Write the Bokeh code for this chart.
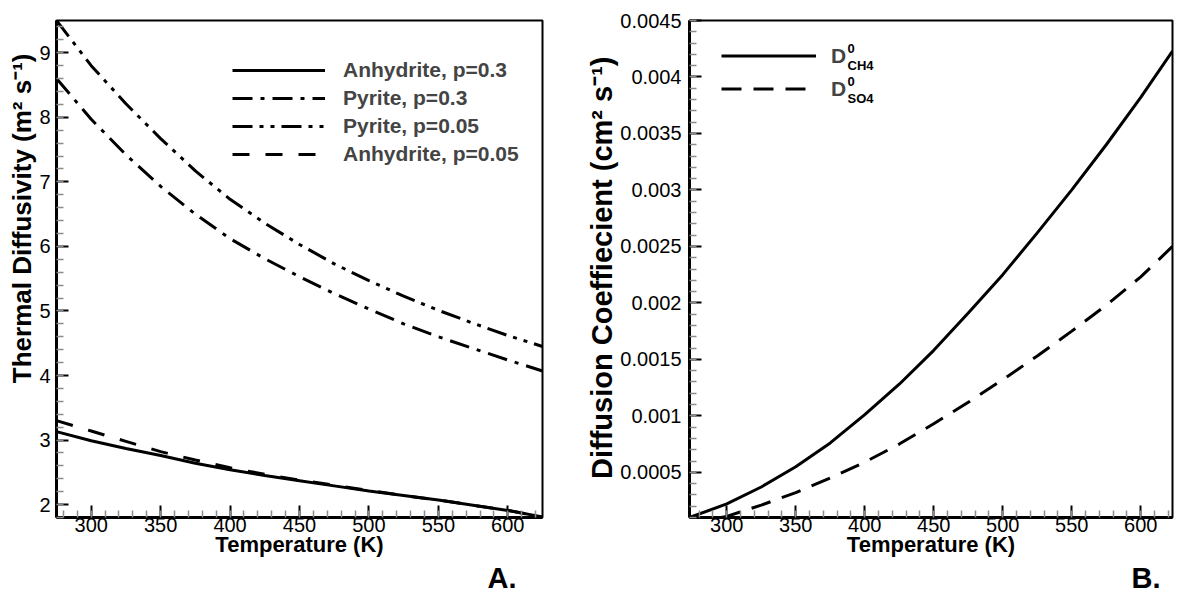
from bokeh.plotting import figure
from bokeh.models import FixedTicker, Legend, LegendItem, Label, Range1d, CustomJSTickFormatter, Title
from bokeh.layouts import row
from bokeh.embed import file_html
from bokeh.resources import INLINE
import numpy as np

# ---------------- data ----------------
temp_a = [275, 300, 325, 350, 375, 400, 425, 450, 475, 500, 525, 550, 575, 600, 625]
anhydrite_p03 = [3.13, 2.99, 2.87, 2.76, 2.64, 2.54, 2.45, 2.37, 2.29, 2.21, 2.14, 2.07, 1.99, 1.91, 1.81]
pyrite_p03 = [8.6, 7.97, 7.42, 6.93, 6.5, 6.12, 5.81, 5.53, 5.27, 5.03, 4.8, 4.6, 4.42, 4.24, 4.07]
pyrite_p005 = [9.5, 8.8, 8.21, 7.67, 7.17, 6.73, 6.36, 6.03, 5.73, 5.47, 5.23, 5.01, 4.81, 4.62, 4.45]
anhydrite_p005 = [3.3, 3.14, 2.98, 2.82, 2.69, 2.57, 2.47, 2.38, 2.3, 2.22, 2.14, 2.07, 1.99, 1.91, 1.81]

temp_b = [273, 300, 325, 350, 375, 400, 425, 450, 475, 500, 525, 550, 575, 600, 623]
d_ch4 = [0.0001, 0.00022, 0.00037, 0.00055, 0.00076, 0.00101, 0.00128, 0.00158, 0.00191,
         0.00225, 0.00262, 0.003, 0.0034, 0.00382, 0.00423]
d_so4 = [0.00005, 0.00011, 0.00021, 0.00032, 0.00045, 0.00059, 0.00075, 0.00093, 0.00112,
         0.00132, 0.00153, 0.00175, 0.00198, 0.00223, 0.0025]

x_ticks = [300, 350, 400, 450, 500, 550, 600]
ya_ticks = [2, 3, 4, 5, 6, 7, 8, 9]
yb_ticks = [0.0005, 0.001, 0.0015, 0.002, 0.0025, 0.003, 0.0035, 0.004, 0.0045]

labels_a = ["Anhydrite, p=0.3", "Pyrite, p=0.3", "Pyrite, p=0.05", "Anhydrite, p=0.05"]

FONT = "'Liberation Sans', Arial, sans-serif"


def style(p):
    p.outline_line_color = "black"
    p.outline_line_width = 2
    p.xgrid.visible = False
    p.ygrid.visible = False
    p.background_fill_color = "white"
    p.border_fill_color = "white"
    for ax in (p.xaxis[0], p.yaxis[0]):
        ax.axis_line_width = 3
        ax.axis_line_color = "black"
        ax.major_tick_in = 12
        ax.major_tick_out = 0
        ax.minor_tick_in = 7
        ax.minor_tick_out = 0
        ax.major_tick_line_width = 2
        ax.major_tick_line_color = "black"
        ax.minor_tick_line_color = "#8c8c8c"
        ax.minor_tick_line_width = 1.5
        ax.major_label_text_font = FONT
        ax.major_label_text_font_size = "20px"
        ax.major_label_text_color = "black"
        ax.axis_label_text_font = FONT
        ax.axis_label_text_font_size = "22px"
        ax.axis_label_text_font_style = "bold"
        ax.axis_label_text_color = "black"
    p.xaxis[0].major_label_standoff = 0
    p.xaxis[0].axis_label_standoff = -3


def side_title(text, offset, size):
    return Title(text=text, align="right", offset=offset, standoff=0, text_font=FONT,
                 text_font_size=size, text_font_style="bold", text_color="black")


# ---------------- panel A ----------------
pa = figure(width=583, height=593, x_range=Range1d(275, 625), y_range=Range1d(1.8, 9.5),
            output_backend="svg", toolbar_location=None,
            min_border_left=56, min_border_right=41, min_border_top=20, min_border_bottom=75)
style(pa)
pa.xaxis[0].ticker = FixedTicker(ticks=x_ticks, minor_ticks=list(np.arange(280, 625, 10)))
pa.yaxis[0].ticker = FixedTicker(ticks=ya_ticks, minor_ticks=list(np.round(np.arange(1.8, 9.5, 0.2), 1)))
pa.xaxis[0].axis_label = "Temperature (K)"
pa.yaxis[0].major_label_standoff = 6
pa.add_layout(side_title("Thermal Diffusivity (m\u00b2 s\u207b\u00b9)", 33, "26px"), "left")

ra1 = pa.line(temp_a, anhydrite_p03, line_color="black", line_width=3)
ra2 = pa.line(temp_a, pyrite_p03, line_color="black", line_width=3, line_dash="20 8 4 8")
ra3 = pa.line(temp_a, pyrite_p005, line_color="black", line_width=3, line_dash="20 7 4 7 4 7")
ra4 = pa.line(temp_a, anhydrite_p005, line_color="black", line_width=3, line_dash="17 16")

leg_a = Legend(items=[LegendItem(label=labels_a[0], renderers=[ra1]),
                      LegendItem(label=labels_a[1], renderers=[ra2]),
                      LegendItem(label=labels_a[2], renderers=[ra3]),
                      LegendItem(label=labels_a[3], renderers=[ra4])],
               location=(176, 349), glyph_width=93, glyph_height=28, label_height=28,
               label_standoff=18, spacing=0, padding=0, margin=0,
               border_line_color=None, background_fill_alpha=0,
               label_text_font=FONT, label_text_font_size="21px", label_text_font_style="bold",
               label_text_baseline="middle")
pa.add_layout(leg_a)
pa.add_layout(side_title("A.", 26, "29px"), "below")

# ---------------- panel B ----------------
pb = figure(width=594, height=593, x_range=Range1d(273, 623), y_range=Range1d(0.0001, 0.0045),
            output_backend="svg", toolbar_location=None,
            min_border_left=106, min_border_right=5, min_border_top=20, min_border_bottom=75)
style(pb)
pb.xaxis[0].ticker = FixedTicker(ticks=x_ticks, minor_ticks=list(np.arange(280, 623, 10)))
pb.yaxis[0].ticker = FixedTicker(ticks=yb_ticks, minor_ticks=list(np.round(np.arange(0.0001, 0.00451, 0.0001), 5)))
pb.yaxis[0].formatter = CustomJSTickFormatter(code="return Number(tick.toPrecision(4)).toString();")
pb.xaxis[0].axis_label = "Temperature (K)"
pb.yaxis[0].major_label_standoff = 8
pb.add_layout(side_title("Diffusion Coeffiecient (cm\u00b2 s\u207b\u00b9)", 36, "29px"), "left")

rb1 = pb.line(temp_b, d_ch4, line_color="black", line_width=3)
rb2 = pb.line(temp_b, d_so4, line_color="black", line_width=3, line_dash="20 12")

leg_b = Legend(items=[LegendItem(label="D", renderers=[rb1]),
                      LegendItem(label="D", renderers=[rb2])],
               location=(32, 412), glyph_width=95, glyph_height=33, label_height=33,
               label_standoff=15, spacing=0, padding=0, margin=0,
               border_line_color=None, background_fill_alpha=0,
               label_text_font=FONT, label_text_font_size="21px", label_text_font_style="bold",
               label_text_baseline="middle")
pb.add_layout(leg_b)
for txt, yy, fs in [("0", 469, "13px"), ("CH4", 452, "13px"), ("0", 436, "13px"), ("SO4", 419, "13px")]:
    pb.add_layout(Label(x=158, y=yy, x_units="screen", y_units="screen", text=txt,
                        text_align="left", text_baseline="middle", text_font=FONT,
                        text_font_size=fs, text_font_style="bold", text_color="black"))
pb.add_layout(side_title("B.", 12, "29px"), "below")

layout = row(pa, pb)
open("out.html", "w").write(file_html(layout, INLINE))
